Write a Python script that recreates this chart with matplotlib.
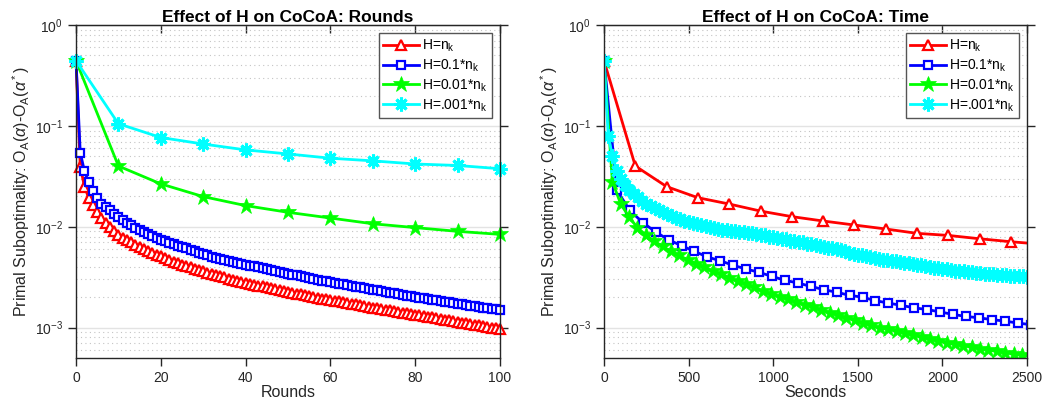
import numpy as np
import matplotlib.pyplot as plt

plt.rcParams['font.family'] = ['Liberation Sans', 'DejaVu Sans']
plt.rcParams['mathtext.fontset'] = 'custom'
plt.rcParams['mathtext.rm'] = 'Liberation Sans'
plt.rcParams['mathtext.it'] = 'Liberation Sans:italic'

labels = [r'H=n$_\mathrm{k}$', r'H=0.1*n$_\mathrm{k}$', r'H=0.01*n$_\mathrm{k}$', r'H=.001*n$_\mathrm{k}$']

# ---- left panel: suboptimality per round ----
rounds = list(range(101))
rounds_10 = [0, 10, 20, 30, 40, 50, 60, 70, 80, 90, 100]

red_rounds = [0.443, 0.0395, 0.0250, 0.0193, 0.0163, 0.0140, 0.0123, 0.0110, 0.0099, 0.0090,
              0.0082, 0.0078, 0.0074, 0.0070, 0.0066, 0.0063, 0.0060, 0.0057, 0.0055, 0.0053,
              0.0051, 0.0049, 0.0047, 0.0045, 0.0044, 0.0042, 0.00410, 0.00398, 0.00385, 0.00372,
              0.00360, 0.00350, 0.00340, 0.00331, 0.00322, 0.00314, 0.00306, 0.00298, 0.00291, 0.00285,
              0.00279, 0.00273, 0.00267, 0.00261, 0.00256, 0.00250, 0.00245, 0.00240, 0.00235, 0.00230,
              0.00226, 0.00221, 0.00217, 0.00213, 0.00209, 0.00205, 0.00201, 0.00198, 0.00194, 0.00191,
              0.00188, 0.00185, 0.00182, 0.00179, 0.00176, 0.00173, 0.00170, 0.00167, 0.00164, 0.00161,
              0.00158, 0.00155, 0.00153, 0.00150, 0.00148, 0.00145, 0.00143, 0.00141, 0.00138, 0.00136,
              0.00134, 0.00132, 0.00130, 0.00128, 0.00126, 0.00124, 0.00122, 0.00120, 0.00118, 0.00116,
              0.00114, 0.00112, 0.00110, 0.00108, 0.00107, 0.00105, 0.00103, 0.00101, 0.00099, 0.00098,
              0.00096]
blue_rounds = [0.443, 0.0544, 0.0354, 0.0275, 0.0226, 0.0193, 0.0170, 0.0156, 0.0145, 0.0135,
               0.0126, 0.0117, 0.0110, 0.0104, 0.0098, 0.0093, 0.0089, 0.0085, 0.0081, 0.0077,
               0.0074, 0.0072, 0.0069, 0.0067, 0.0065, 0.0063, 0.0061, 0.0059, 0.0057, 0.0055,
               0.0054, 0.0052, 0.0050, 0.0049, 0.0048, 0.0047, 0.0046, 0.0045, 0.0044, 0.0043,
               0.0042, 0.00412, 0.00404, 0.00396, 0.00388, 0.00380, 0.00372, 0.00364, 0.00356, 0.00349,
               0.00342, 0.00335, 0.00329, 0.00323, 0.00317, 0.00311, 0.00305, 0.00299, 0.00293, 0.00288,
               0.00283, 0.00278, 0.00273, 0.00268, 0.00264, 0.00259, 0.00255, 0.00250, 0.00246, 0.00242,
               0.00238, 0.00234, 0.00230, 0.00226, 0.00222, 0.00218, 0.00214, 0.00211, 0.00207, 0.00204,
               0.00201, 0.00198, 0.00195, 0.00192, 0.00189, 0.00186, 0.00183, 0.00180, 0.00178, 0.00175,
               0.00172, 0.00170, 0.00167, 0.00165, 0.00162, 0.00160, 0.00158, 0.00156, 0.00154, 0.00152,
               0.00150]
green_rounds = [0.443, 0.0400, 0.0266, 0.0199, 0.0162, 0.0139, 0.0122, 0.0107, 0.0098, 0.0090, 0.0084]
cyan_rounds = [0.443, 0.105, 0.0767, 0.0661, 0.0578, 0.0527, 0.0478, 0.0450, 0.0419, 0.0405, 0.0376]

# ---- right panel: suboptimality vs wall time ----
red_dt, blue_dt, green_dt, cyan_dt = 185.0, 76.4, 49.4, 25.0
red_time = [0.443, 0.0400, 0.0250, 0.0194, 0.0168, 0.0143, 0.0126, 0.0114, 0.0104, 0.0095,
            0.0086, 0.0082, 0.0076, 0.0071, 0.0067]
blue_time = [0.443, 0.0229, 0.0145, 0.0110, 0.00886, 0.00743, 0.00648, 0.00570, 0.00501, 0.00460,
             0.00414, 0.00381, 0.00353, 0.00322, 0.00294, 0.00277, 0.00256, 0.00238, 0.00224, 0.00209,
             0.00200, 0.00185, 0.00175, 0.00166, 0.00157, 0.00151, 0.00143, 0.00135, 0.00129, 0.00125,
             0.00120, 0.00116, 0.00111, 0.00107]
green_time = [0.443, 0.0280, 0.0168, 0.0125, 0.0098, 0.0083, 0.0072, 0.0064, 0.0057, 0.0052,
              0.0047, 0.0043, 0.0040, 0.0036, 0.0034, 0.0031, 0.0029, 0.0027, 0.0025, 0.0023,
              0.00217, 0.00203, 0.00191, 0.00180, 0.00169, 0.00159, 0.00150, 0.00141, 0.00133, 0.00125,
              0.00118, 0.00111, 0.00105, 0.00100, 0.00096, 0.00092, 0.00088, 0.00084, 0.00080, 0.00077,
              0.00074, 0.00071, 0.00068, 0.00066, 0.00064, 0.00062, 0.00060, 0.00058, 0.00056, 0.00055,
              0.00053, 0.00052]
cyan_time = [0.443, 0.080, 0.050, 0.036, 0.030, 0.026, 0.0232, 0.0212, 0.0196, 0.0182,
             0.0170, 0.0160, 0.0152, 0.0145, 0.0139, 0.0133, 0.0128, 0.0123, 0.0119, 0.0115,
             0.0112, 0.0109, 0.0106, 0.0103, 0.0101, 0.0099, 0.0097, 0.0095, 0.0093, 0.0092,
             0.0091, 0.0090, 0.0089, 0.0088, 0.0087, 0.0086, 0.0085, 0.0083, 0.0082, 0.0080,
             0.0079, 0.0077, 0.0076, 0.0075, 0.0073, 0.0072, 0.0071, 0.0070, 0.0068, 0.0067,
             0.0066, 0.0065, 0.0063, 0.0062, 0.0061, 0.0060, 0.0059, 0.0057, 0.0055, 0.0054,
             0.0053, 0.0052, 0.0051, 0.0050, 0.0049, 0.0048, 0.0047, 0.00465, 0.0046, 0.00453,
             0.00446, 0.0044, 0.00433, 0.00426, 0.0042, 0.00413, 0.00407, 0.0040, 0.00394, 0.00388,
             0.00382, 0.00377, 0.00372, 0.00368, 0.00364, 0.0036, 0.00356, 0.00352, 0.00349, 0.00346,
             0.00343, 0.0034, 0.00337, 0.00335, 0.00332, 0.0033, 0.00328, 0.00326, 0.00324, 0.00322,
             0.0032]

styles = [dict(color='r', marker='^', mfc='w', mec='r', ms=7, mew=1.6),
          dict(color='b', marker='s', mfc='w', mec='b', ms=5.5, mew=1.6),
          dict(color=(0, 1, 0), marker='*', ms=12, mew=0.5),
          dict(color=(0, 1, 1), marker=(8, 2, 0), ms=10, mew=2.2)]

dark = '#262626'
fig = plt.figure(figsize=(10.47, 4.04), dpi=100)
ax1 = fig.add_axes([0.0726, 0.114, 0.405, 0.824])
ax2 = fig.add_axes([0.5769, 0.114, 0.404, 0.824])

left_data = [(rounds, red_rounds), (rounds, blue_rounds), (rounds_10, green_rounds), (rounds_10, cyan_rounds)]
for (x, y), st, lab in zip(left_data, styles, labels):
    ax1.plot(x, y, lw=2, label=lab, clip_on=False, **st)

right_data = [(red_dt, red_time), (blue_dt, blue_time), (green_dt, green_time), (cyan_dt, cyan_time)]
for (dt, y), st, lab in zip(right_data, styles, labels):
    t = np.arange(len(y)) * dt
    ax2.plot(t, y, lw=2, label=lab, **st)

ylab = r'Primal Suboptimality: O$_\mathrm{A}$($\alpha$)-O$_\mathrm{A}$($\alpha^*$)'
for ax, xmax, xt, title, xlabel in [(ax1, 100, [0, 20, 40, 60, 80, 100], 'Effect of H on CoCoA: Rounds', 'Rounds'),
                                    (ax2, 2500, [0, 500, 1000, 1500, 2000, 2500], 'Effect of H on CoCoA: Time', 'Seconds')]:
    ax.set_yscale('log')
    ax.set_xlim(0, xmax)
    ax.set_ylim(5e-4, 1)
    ax.set_xticks(xt)
    ax.set_yticks([1e-3, 1e-2, 1e-1, 1])
    ax.yaxis.grid(True, which='major', color='#e3e3e3', lw=1, ls='-')
    ax.yaxis.grid(True, which='minor', color='#c4c4c4', lw=0.8, ls=(0, (1, 3)))
    ax.set_axisbelow(True)
    ax.tick_params(axis='x', direction='out', length=6, colors=dark, labelsize=10, width=1)
    ax.tick_params(axis='y', which='major', direction='out', length=6, right=True,
                   colors=dark, labelsize=10, width=1)
    ax.tick_params(axis='y', which='minor', length=0)
    top = ax.secondary_xaxis('top')
    top.set_xticks(xt)
    top.tick_params(direction='in', length=6, labeltop=False, colors=dark, width=1)
    top.spines['top'].set_color(dark)
    for s in ax.spines.values():
        s.set_color(dark)
        s.set_linewidth(1)
    ax.set_title(title, fontsize=12.5, fontweight='bold', pad=1, color='k')
    ax.set_xlabel(xlabel, fontsize=11.5, labelpad=0, color=dark)
    ax.set_ylabel(ylab, fontsize=11.5, labelpad=2, color=dark)
    leg = ax.legend(loc='upper right', fontsize=10, handlelength=2.6, handletextpad=0.2,
                    labelspacing=0.25, borderaxespad=0.6, borderpad=0.3, fancybox=False,
                    framealpha=1, edgecolor='#555555')
    leg.get_frame().set_linewidth(1)

fig.savefig('out.png', dpi=100)
